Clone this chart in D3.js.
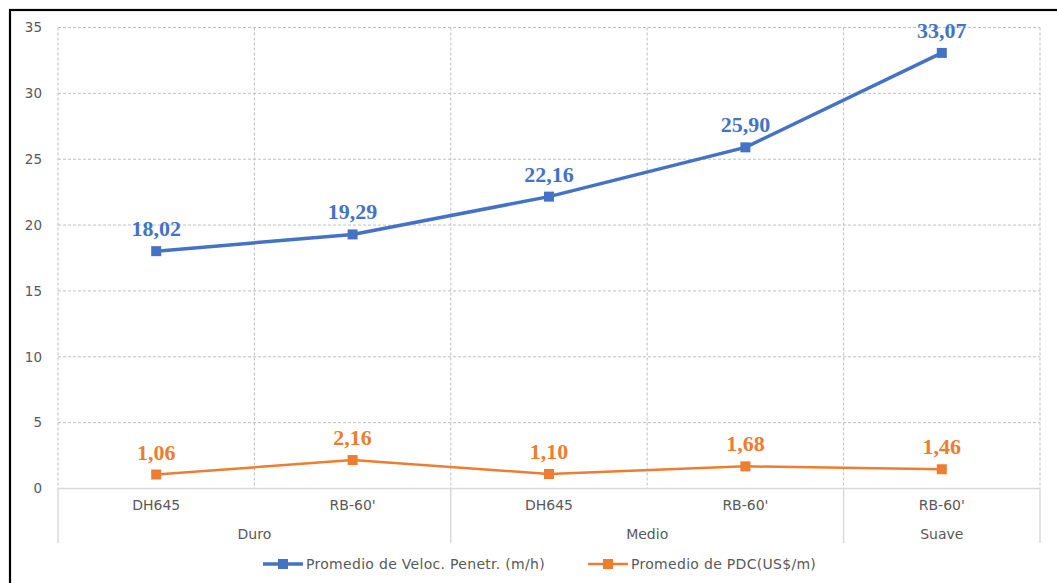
<!DOCTYPE html>
<html>
<head>
<meta charset="utf-8">
<script src="https://cdn.jsdelivr.net/npm/d3@7"></script>
<style>
  html, body { margin: 0; padding: 0; background: #fff; }
  svg { display: block; }
</style>
</head>
<body>
<svg id="chart" width="1057" height="583"></svg>
<script>
// Drill bits grouped by rock hardness
const bits = ["DH645", "RB-60'", "DH645", "RB-60'", "RB-60'"];
const groups = [
  { name: "Duro", span: 2 },
  { name: "Medio", span: 2 },
  { name: "Suave", span: 1 }
];
const rop = [18.02, 19.29, 22.16, 25.90, 33.07];   // Promedio de Veloc. Penetr. (m/h)
const cost = [1.06, 2.16, 1.10, 1.68, 1.46];        // Promedio de PDC (US$/m)
const yTicks = [0, 5, 10, 15, 20, 25, 30, 35];
const seriesNames = ["Promedio de Veloc. Penetr. (m/h)", "Promedio de PDC(US$/m)"];

const colors = ["#4472C4", "#ED7D31"];
const svg = d3.select("#chart");

const plotLeft = 58, plotRight = 1040, plotTop = 27.5, plotBottom = 488.5;
const labelFont = "'DejaVu Sans', Verdana, sans-serif";

// outer frame
svg.append("rect")
  .attr("x", 10).attr("y", 10).attr("width", 1100).attr("height", 650)
  .attr("fill", "none").attr("stroke", "#000").attr("stroke-width", 2.2);

const idx = d3.range(bits.length);
const x = d3.scaleBand().domain(idx).range([plotLeft, plotRight]).padding(0);
const y = d3.scaleLinear().domain([0, 35]).range([plotBottom, plotTop]);

// horizontal gridlines
svg.append("g").selectAll("line")
  .data(yTicks.filter(t => t > 0))
  .join("line")
  .attr("x1", plotLeft).attr("x2", plotRight)
  .attr("y1", d => y(d)).attr("y2", d => y(d))
  .attr("stroke", "#bfbfbf").attr("stroke-width", 1)
  .attr("stroke-dasharray", "3,2");

// vertical gridlines at category boundaries
const bounds = idx.map(i => x(i)).concat([plotRight]);
svg.append("g").selectAll("line")
  .data(bounds)
  .join("line")
  .attr("x1", d => d).attr("x2", d => d)
  .attr("y1", plotTop).attr("y2", plotBottom)
  .attr("stroke", "#bfbfbf").attr("stroke-width", 1)
  .attr("stroke-dasharray", "3,2");

// y axis labels
const yAxis = d3.axisLeft(y).tickValues(yTicks).tickSize(0).tickPadding(16);
const gy = svg.append("g").attr("transform", `translate(${plotLeft},0)`).call(yAxis);
gy.select(".domain").remove();
gy.selectAll("text")
  .attr("fill", "#595959")
  .style("font-family", labelFont)
  .style("font-size", "13.5px");

// x axis baseline
svg.append("line")
  .attr("x1", plotLeft).attr("x2", plotRight)
  .attr("y1", plotBottom).attr("y2", plotBottom)
  .attr("stroke", "#d9d9d9").attr("stroke-width", 1.5);

// group separators below the axis
let acc = 0;
const groupEdges = [0];
groups.forEach(g => { acc += g.span; groupEdges.push(acc); });
const edgeX = d => d < bits.length ? x(d) : plotRight;
svg.append("g").selectAll("line")
  .data(groupEdges)
  .join("line")
  .attr("x1", edgeX).attr("x2", edgeX)
  .attr("y1", plotBottom).attr("y2", 543)
  .attr("stroke", "#d9d9d9").attr("stroke-width", 1.5);

// bit labels
const xAxis = d3.axisBottom(x).tickFormat(i => bits[i]).tickSize(0).tickPadding(12);
const gx = svg.append("g").attr("transform", `translate(0,${plotBottom})`).call(xAxis);
gx.select(".domain").remove();
gx.selectAll("text")
  .attr("fill", "#595959")
  .style("font-family", labelFont)
  .style("font-size", "14px");

// hardness group labels
svg.append("g").selectAll("text")
  .data(groups.map((g, i) => ({ name: g.name, start: groupEdges[i], end: groupEdges[i + 1] })))
  .join("text")
  .attr("x", d => (edgeX(d.start) + edgeX(d.end)) / 2)
  .attr("y", 539)
  .attr("text-anchor", "middle")
  .attr("fill", "#595959")
  .style("font-family", labelFont)
  .style("font-size", "14px")
  .text(d => d.name);

// series
const cx = i => x(i) + x.bandwidth() / 2;
const series = [
  { values: rop, color: colors[0], width: 3.5 },
  { values: cost, color: colors[1], width: 2.5 }
];
const line = d3.line().x((d, i) => cx(i)).y(d => y(d));
const fmt = v => v.toFixed(2).replace(".", ",");

series.forEach(s => {
  const g = svg.append("g");
  g.append("path")
    .datum(s.values)
    .attr("d", line)
    .attr("fill", "none")
    .attr("stroke", s.color)
    .attr("stroke-width", s.width)
    .attr("stroke-linejoin", "round");
  g.selectAll("rect")
    .data(s.values)
    .join("rect")
    .attr("x", (d, i) => cx(i) - 5)
    .attr("y", d => y(d) - 5)
    .attr("width", 10).attr("height", 10)
    .attr("fill", s.color);
  g.selectAll("text")
    .data(s.values)
    .join("text")
    .attr("x", (d, i) => cx(i))
    .attr("y", d => y(d) - 15)
    .attr("text-anchor", "middle")
    .attr("fill", s.color)
    .style("font-family", "'Liberation Serif', 'Times New Roman', serif")
    .style("font-weight", "bold")
    .style("font-size", "22px")
    .text(d => fmt(d));
});

// legend
const legend = [
  { x0: 263, name: seriesNames[0], color: colors[0], width: 3.5 },
  { x0: 588, name: seriesNames[1], color: colors[1], width: 2.5 }
];
const ly = 564;
const lg = svg.append("g").selectAll("g").data(legend).join("g");
lg.append("line")
  .attr("x1", d => d.x0).attr("x2", d => d.x0 + 40)
  .attr("y1", ly).attr("y2", ly)
  .attr("stroke", d => d.color).attr("stroke-width", d => d.width);
lg.append("rect")
  .attr("x", d => d.x0 + 15).attr("y", ly - 5)
  .attr("width", 10).attr("height", 10)
  .attr("fill", d => d.color);
lg.append("text")
  .attr("x", d => d.x0 + 43).attr("y", ly + 5)
  .attr("fill", "#595959")
  .style("font-family", labelFont)
  .style("font-size", "14px")
  .style("letter-spacing", "0.3px")
  .text(d => d.name);
</script>
</body>
</html>
